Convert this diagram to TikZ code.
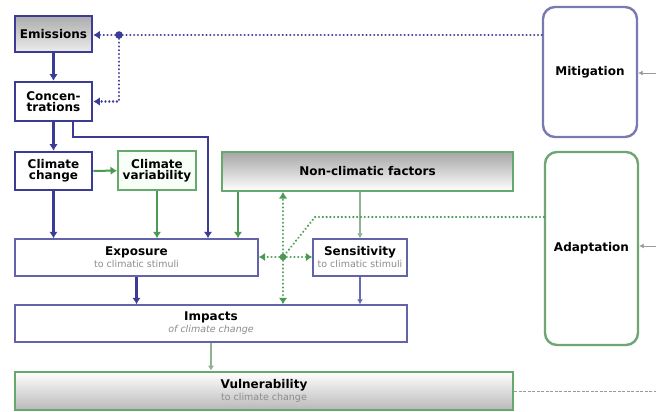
\documentclass[tikz,border=0pt]{standalone}
\usepackage{fontspec}
\setmainfont{DejaVu Sans}
\usetikzlibrary{arrows.meta}

\definecolor{navy}{HTML}{3C3C96}
\definecolor{mitblue}{HTML}{7A7AB2}
\definecolor{leaf}{HTML}{4A9A52}
\definecolor{adagreen}{HTML}{6FA673}
\definecolor{paleline}{HTML}{8FB294}
\definecolor{thinblue}{HTML}{6A6AB0}
\definecolor{subgray}{HTML}{8C8C8C}
\definecolor{arrgray}{HTML}{9A9A9A}

\newcommand{\ttl}[1]{{\fontsize{12}{13}\selectfont\bfseries #1}}
\newcommand{\sub}[1]{{\fontsize{9.5}{10.5}\selectfont\color{subgray}#1}}

\tikzset{
  box/.style={draw, rectangle, align=center, inner sep=1pt},
  bluebox/.style={box, draw=navy, line width=2.6pt, fill=white},
  thinbox/.style={box, draw=navy!80, line width=1.4pt, fill=white},
  greenbox/.style={box, draw=leaf!85, line width=2pt},
  roundbox/.style={box, rounded corners=12pt, line width=2.4pt, fill=white},
  bigtip/.style={-{Latex[length=6.5pt,width=8.5pt]}},
  barrow/.style={draw=navy, line width=2.4pt, bigtip},
  garrow/.style={draw=leaf, line width=2pt, bigtip},
  parrow/.style={draw=paleline, line width=1.2pt, -{Latex[length=5pt,width=6pt]}},
  tarrow/.style={draw=thinblue, line width=1.2pt, -{Latex[length=5pt,width=6pt]}},
  bdots/.style={draw=navy, line width=2.4pt, line cap=round, dash pattern=on 0.01pt off 3.8pt},
  gdots/.style={draw=leaf, line width=2.4pt, line cap=round, dash pattern=on 0.01pt off 3.8pt},
  dtip/.style={-{Latex[length=6.5pt,width=8.5pt,line cap=butt]}},
  grayin/.style={draw=arrgray, line width=0.8pt, -{Latex[length=4.5pt,width=5pt]}},
}

\begin{document}
\begin{tikzpicture}[x=1pt, y=-1pt]
\useasboundingbox[fill=white] (0,0) rectangle (656,412);

% source boxes on the left
\node[bluebox, top color=gray!65, bottom color=gray!15, minimum width=77pt, minimum height=36pt] (em) at (53.5,34) {\ttl{Emissions}};
\node[bluebox, minimum width=77pt, minimum height=39pt] (conc) at (53.5,101.5) {\ttl{Concen-}\\[-1pt]\ttl{trations}};
\node[bluebox, minimum width=77pt, minimum height=38pt] (cc) at (53.5,171) {\ttl{Climate}\\[-1pt]\ttl{change}};
\node[greenbox, fill=green!3, minimum width=78pt, minimum height=39pt] (cv) at (157,170.5) {\ttl{Climate}\\[-1pt]\ttl{variability}};
\node[greenbox, top color=gray!70, bottom color=white, minimum width=291pt, minimum height=39pt] (ncf) at (367.5,171.5) {\ttl{Non-climatic factors}};

% middle and lower boxes
\node[thinbox, minimum width=243pt, minimum height=37pt] (exp) at (136.5,257.5) {\ttl{Exposure}\\\sub{to climatic stimuli}};
\node[thinbox, minimum width=94pt, minimum height=37pt] (sens) at (360,257.5) {\ttl{Sensitivity}\\\sub{to climatic stimuli}};
\node[thinbox, minimum width=392pt, minimum height=37pt] (imp) at (211,323.5) {\ttl{Impacts}\\\sub{\itshape of climate change}};
\node[greenbox, line width=2.6pt, top color=white, bottom color=gray!55, minimum width=498pt, minimum height=38pt] (vul) at (264,391) {\ttl{Vulnerability}\\\sub{to climate change}};

% response boxes on the right
\node[roundbox, draw=mitblue, minimum width=94pt, minimum height=130pt] (mit) at (590,72) {\ttl{Mitigation}};
\node[roundbox, draw=adagreen, minimum width=93pt, minimum height=193pt] (ada) at (591.5,248.5) {\ttl{Adaptation}};

% helper points
\coordinate (k1) at (208,137);
\coordinate (nx) at (238,0);
\coordinate (hub) at (283,257);
\coordinate (bend) at (315,217);
\coordinate (bhub) at (119,35);
\coordinate (rm) at (656,73);
\coordinate (ra) at (656,246);
\coordinate (rv) at (656,391);

% climate chain
\draw[barrow] (em) -- (conc);
\draw[barrow] (conc) -- (cc);
\draw[barrow] ([xshift=19.5pt]conc.south) |- (k1) -- (k1 |- exp.north);
\draw[garrow] (cc) -- (cv);
\draw[barrow] (cc.south) -- (cc.south |- exp.north);
\draw[garrow] (cv.south) -- (cv.south |- exp.north);
\draw[garrow] (nx |- ncf.south) -- (nx |- exp.north);
\draw[parrow] (sens.north |- ncf.south) -- (sens.north);
\draw[barrow] (exp.south) -- (exp.south |- imp.north);
\draw[tarrow] (sens.south) -- (sens.south |- imp.north);
\draw[parrow] (imp.south) -- (imp.south |- vul.north);

% adaptation links (dotted green)
\draw[gdots] (bend -| ada.west) -- (bend) -- (hub);
\draw[gdots, dtip] (hub) -- (hub |- ncf.south);
\draw[gdots, dtip] (hub) -- (hub |- imp.north);
\draw[gdots, dtip] (hub) -- (hub -| exp.east);
\draw[gdots, dtip] (hub) -- (hub -| sens.west);
\fill[leaf] (hub) circle (3.4pt);

% mitigation links (dotted blue)
\draw[bdots] (bhub -| mit.west) -- (bhub);
\draw[bdots, dtip] (bhub) -- (bhub -| em.east);
\draw[bdots, dtip] (bhub) |- (conc.east);
\fill[navy] (bhub) circle (3.8pt);

% links leaving the frame
\draw[grayin] (rm) -- (rm -| mit.east);
\draw[grayin] (ra) -- (ra -| ada.east);
\draw[draw=arrgray, line width=0.9pt, dash pattern=on 3pt off 1.5pt] (vul.east) -- (rv);
\end{tikzpicture}
\end{document}
